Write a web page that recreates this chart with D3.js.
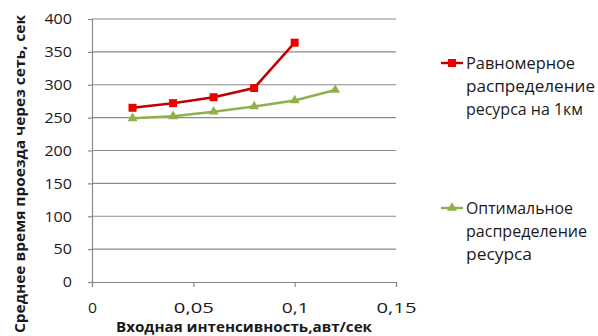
<!DOCTYPE html>
<html><head><meta charset="utf-8">
<script src="https://cdn.jsdelivr.net/npm/d3@7"></script>
<style>body{margin:0;background:#fff}svg{display:block}text{font-family:"Open Sans",sans-serif;fill:#1a1a1a}</style>
</head><body><svg id="c" width="598" height="336"></svg>
<script>
const xValsRed = [0.02, 0.04, 0.06, 0.08, 0.10];
const redValues = [265, 272, 281, 295, 364];
const xValsGreen = [0.02, 0.04, 0.06, 0.08, 0.10, 0.12];
const greenValues = [249, 252, 259, 267, 276, 292];
const xTicks = [0, 0.05, 0.1, 0.15];
const xTickLabels = ["0", "0,05", "0,1", "0,15"];
const yTicks = [0, 50, 100, 150, 200, 250, 300, 350, 400];
const legendRed = ["Равномерное", "распределение", "ресурса на 1км"];
const legendGreen = ["Оптимальное", "распределение", "ресурса"];
const xTitle = "Входная интенсивность,авт/сек";
const yTitle = "Среднее время проезда через сеть, сек";

const svg = d3.select("#c");
const x = d3.scaleLinear().domain([0, 0.15]).range([92, 396]);
const y = d3.scaleLinear().domain([0, 400]).range([282, 19]);
const grid = "#8a8a8a";

svg.append("g").selectAll("line").data(yTicks.filter(d => d > 0)).join("line")
  .attr("x1", x(0)).attr("x2", x(0.15)).attr("y1", d => y(d)).attr("y2", d => y(d))
  .attr("stroke", grid).attr("stroke-width", 1.2);

const ya = svg.append("g").attr("transform", `translate(${x(0)},0)`)
  .call(d3.axisLeft(y).tickValues(yTicks).tickSize(4).tickPadding(16));
ya.select(".domain").attr("stroke", grid).attr("stroke-width", 1.2);
ya.selectAll(".tick line").attr("stroke", grid).attr("stroke-width", 1.2);
ya.selectAll(".tick text").attr("font-size", 15).attr("fill", "#1a1a1a")
  .attr("font-family", "'Open Sans',sans-serif").attr("textLength", function(){return this.textContent.length*9.2;})
  .attr("lengthAdjust", "spacingAndGlyphs");

const xa = svg.append("g").attr("transform", `translate(0,${y(0)})`)
  .call(d3.axisBottom(x).tickValues(xTicks).tickFormat((d, i) => xTickLabels[i]).tickSize(5).tickPadding(16));
xa.select(".domain").attr("stroke", grid).attr("stroke-width", 1.2);
xa.selectAll(".tick line").attr("stroke", grid).attr("stroke-width", 1.2);
xa.selectAll(".tick text").attr("font-size", 14).attr("fill", "#1a1a1a")
  .attr("font-family", "'Open Sans',sans-serif")
  .attr("textLength", function(){ const t = this.textContent; return t.length === 1 ? 9 : (t.length === 3 ? 27 : 40); })
  .attr("lengthAdjust", "spacingAndGlyphs");

svg.append("text").attr("x", 244).attr("y", 332).attr("text-anchor", "middle")
  .attr("font-size", 13.5).attr("font-weight", "bold").attr("textLength", 256)
  .attr("lengthAdjust", "spacingAndGlyphs").text(xTitle);
svg.append("text").attr("transform", "translate(25,174) rotate(-90)").attr("text-anchor", "middle")
  .attr("font-size", 14).attr("font-weight", "bold").attr("textLength", 318)
  .attr("lengthAdjust", "spacingAndGlyphs").text(yTitle);

const red = "#c00000", redM = "#ee0000", green = "#8fb04a", greenM = "#8fb04a";
const line = d3.line().x(d => x(d[0])).y(d => y(d[1]));
const redData = xValsRed.map((v, i) => [v, redValues[i]]);
const greenData = xValsGreen.map((v, i) => [v, greenValues[i]]);

svg.append("path").datum(greenData).attr("d", line).attr("fill", "none").attr("stroke", green).attr("stroke-width", 2.5);
svg.append("g").selectAll("path").data(greenData).join("path")
  .attr("transform", d => `translate(${x(d[0])},${y(d[1])})`)
  .attr("d", d3.symbol(d3.symbolTriangle, 42)()).attr("fill", greenM);

svg.append("path").datum(redData).attr("d", line).attr("fill", "none").attr("stroke", red).attr("stroke-width", 2.5);
svg.append("g").selectAll("rect").data(redData).join("rect")
  .attr("x", d => x(d[0]) - 4).attr("y", d => y(d[1]) - 4).attr("width", 8).attr("height", 8)
  .attr("fill", redM);

function legend(y0, lines, color, mcolor, marker, widths) {
  const g = svg.append("g");
  g.append("line").attr("x1", 441).attr("x2", 463).attr("y1", y0).attr("y2", y0)
    .attr("stroke", color).attr("stroke-width", 2.5);
  if (marker === "sq") g.append("rect").attr("x", 448).attr("y", y0 - 4).attr("width", 8).attr("height", 8).attr("fill", mcolor);
  else g.append("path").attr("transform", `translate(452,${y0})`).attr("d", d3.symbol(d3.symbolTriangle, 42)()).attr("fill", mcolor);
  lines.forEach((t, i) => {
    g.append("text").attr("x", 466).attr("y", y0 + 6 + i * 23).attr("font-size", 16)
      .attr("textLength", widths[i]).attr("lengthAdjust", "spacingAndGlyphs").text(t);
  });
}
legend(63, legendRed, red, redM, "sq", [109, 129, 117]);
legend(208, legendGreen, green, greenM, "tri", [107, 121, 66]);
</script></body></html>
